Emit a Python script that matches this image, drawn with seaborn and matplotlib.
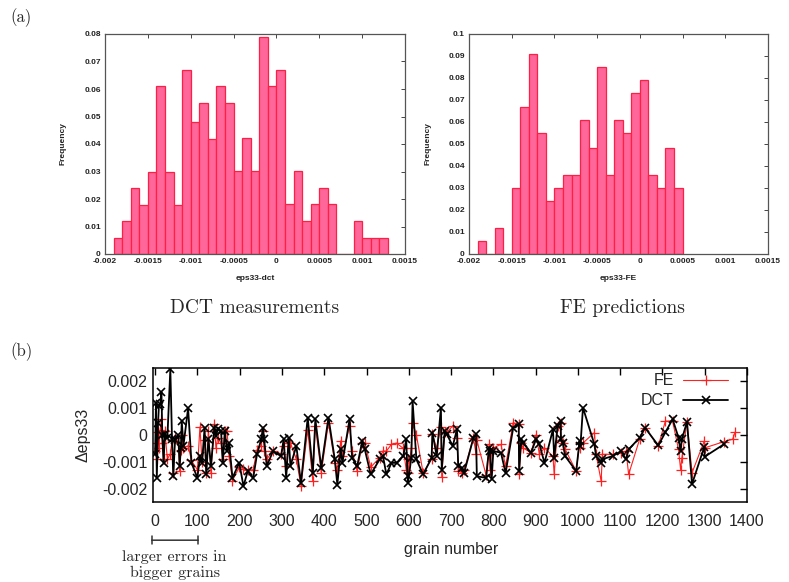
import numpy as np
import matplotlib
matplotlib.use('Agg')
import matplotlib.pyplot as plt
import matplotlib.transforms as mtransforms
import seaborn as sns

# (a) histograms: relative frequency per 0.0001-wide bin
bin_width = 0.0001
dct_bin_start = -0.0019
dct_freq = [0.006, 0.012, 0.024, 0.018, 0.030, 0.061, 0.030, 0.018,
            0.067, 0.048, 0.055, 0.042, 0.061, 0.055, 0.030, 0.042,
            0.030, 0.079, 0.061, 0.067, 0.018, 0.030, 0.012, 0.018,
            0.024, 0.018, 0.0, 0.0, 0.012, 0.006, 0.006, 0.006]
fe_bin_start = -0.0019
fe_freq = [0.006, 0.0, 0.012, 0.0, 0.030, 0.067, 0.091, 0.055,
           0.024, 0.030, 0.036, 0.036, 0.061, 0.048, 0.085, 0.036,
           0.061, 0.055, 0.073, 0.079, 0.036, 0.030, 0.048, 0.030]

hist_xticks = [-0.002, -0.0015, -0.001, -0.0005, 0, 0.0005, 0.001, 0.0015]
hist_xticklabels = ['-0.002', '-0.0015', '-0.001', '-0.0005', '0',
                    '0.0005', '0.001', '0.0015']
dct_yticks = [0, 0.01, 0.02, 0.03, 0.04, 0.05, 0.06, 0.07, 0.08]
fe_yticks = [0, 0.01, 0.02, 0.03, 0.04, 0.05, 0.06, 0.07, 0.08, 0.09, 0.1]

# (b) eps33 per grain, in units of 1e-3
grain = [0, 2, 4, 7, 9, 12, 15, 17, 20, 23,
         29, 36, 40, 43, 47, 55, 58, 61, 63, 67,
         78, 86, 100, 106, 111, 117, 121, 126, 132, 140,
         144, 148, 156, 160, 165, 170, 175, 183, 199, 209,
         219, 232, 241, 251, 255, 258, 264, 279, 298, 304,
         310, 316, 320, 334, 345, 361, 373, 379, 393, 410,
         425, 431, 439, 443, 460, 466, 478, 490, 496, 510,
         531, 539, 547, 559, 571, 587, 594, 597, 598, 606,
         609, 618, 634, 654, 656, 666, 676, 678, 685, 690,
         704, 714, 717, 725, 731, 753, 759, 761, 783, 790,
         792, 796, 800, 818, 829, 847, 860, 861, 866, 870,
         889, 901, 909, 921, 941, 944, 952, 959, 960, 964,
         970, 996, 1004, 1006, 1012, 1039, 1043, 1055, 1058, 1082,
         1102, 1114, 1120, 1146, 1159, 1190, 1207, 1224, 1238, 1243,
         1246, 1258, 1270, 1299, 1300, 1345]
dct_milli = [-0.72, 1.2, -1.6, 0.46, 1.1, 1.15, 1.6, 0.0, -1.04, 0.03,
             -0.1, 2.46, -0.16, -1.54, -0.2, 0.0, -1.16, -0.47, 0.52, -0.4,
             1.0, -1.04, -1.6, -0.8, -1.04, 0.27, -1.47, -0.15, -1.16, 0.27,
             -0.04, 0.21, 0.15, -1.04, 0.15, -0.6, -0.29, -1.6, -1.04, -1.91,
             -1.35, -1.6, -0.72, -0.16, 0.27, -0.16, -1.16, -0.6, -0.79, -0.16,
             -1.6, -0.1, -1.16, -0.41, -1.79, 0.65, -1.41, 0.59, -1.22, 0.65,
             -0.91, -1.85, -0.54, -1.04, 0.59, -0.85, -1.16, -0.22, -0.54, -1.47,
             -0.91, -0.79, -1.47, -1.04, -1.04, -0.79, -0.16, -1.54, -1.79, -0.85,
             1.27, -0.91, -1.47, -0.85, 0.09, -0.79, 1.02, -1.29, 0.15, 0.03,
             -0.41, 0.21, -1.16, -1.22, -1.41, -0.1, 0.02, -1.54, -1.6, -0.48,
             -0.6, -1.66, -0.6, -0.66, -1.41, 0.27, 0.4, -1.35, -0.16, -0.29,
             -0.66, -0.16, -0.35, -1.04, 0.21, -0.85, 0.34, 0.52, -0.16, -0.29,
             -0.79, -1.35, -0.22, -0.41, 1.02, -0.35, -0.79, -1.04, -0.9, -0.79,
             -0.6, -0.91, -0.54, -0.1, 0.27, -0.39, 0.1, 0.59, -0.1, -0.6,
             -0.16, 0.49, -1.83, -0.44, -0.81, -0.35]
fe_grain = grain + [1366, 1372]
fe_milli = [-0.6, -0.3, -0.9, 0.1, -0.5, 0.2, 0.6, -0.3, -0.9, 0.15,
            -0.9, -0.7, -0.2, -1.4, -0.1, -0.3, -1.35, -0.55, 0.0, -0.5,
            -0.4, -0.95, -1.3, 0.3, -1.0, -0.2, -1.4, 0.15, -1.4, 0.4,
            -0.5, -0.1, -0.3, -0.9, 0.15, 0.15, -0.8, -1.7, -1.2, -1.25,
            -1.3, -1.3, -0.55, -0.4, 0.15, -0.6, -0.9, -0.6, -0.7, -0.4,
            -1.16, -0.3, -0.3, -0.9, -1.9, 0.2, -1.72, 0.34, -1.4, 0.46,
            -1.04, -1.3, -0.22, -0.8, 0.34, -0.6, -1.35, -0.3, -0.3, -1.2,
            -0.85, -0.6, -0.6, -0.35, -0.3, -0.5, -1.3, -0.9, -1.4, -0.5,
            0.46, 0.0, -1.42, -0.9, 0.02, -0.5, 0.3, -1.55, 0.1, 0.1,
            0.34, -0.1, -1.35, -1.4, -1.3, -0.1, -0.72, -0.2, -1.5, -0.35,
            -1.29, -0.6, -0.48, -0.35, -1.16, 0.46, 0.4, -1.47, -0.3, -0.48,
            -0.66, 0.0, -0.72, -0.48, -0.8, -1.47, 0.34, 0.46, -0.2, -0.3,
            -0.54, -1.35, -0.3, -0.48, -0.3, 0.09, -0.72, -1.72, -0.72, -0.72,
            -0.66, -0.6, -1.47, -0.16, 0.27, -0.41, 0.52, 0.52, -0.54, -1.29,
            -0.85, 0.49, -1.41, -0.22, -0.48, -0.25,
            -0.16, 0.11]

line_xticks = list(range(0, 1401, 100))
line_yticks = [-0.002, -0.001, 0, 0.001, 0.002]
line_yticklabels = ['-0.002', '-0.001', '0', '0.001', '0.002']

FILL = '#ff6699'
EDGE = '#ff1f45'
SERIF = 'cmr10'


def draw_hist(ax, start, freq, xlabel, yticks):
    '''
    Draws one gnuplot-like frequency histogram from bin heights.
    '''
    freq = np.array(freq)
    centers = start + bin_width * (np.arange(len(freq)) + 0.5)
    edges = start + bin_width * np.arange(len(freq) + 1)
    keep = freq > 0
    sns.histplot(x=centers[keep], weights=freq[keep], bins=edges.tolist(),
                 color=FILL, edgecolor=EDGE, linewidth=0.9, alpha=1, ax=ax)
    ax.set_xlim(-0.002, 0.0015)
    ax.set_ylim(0, yticks[-1])
    ax.set_xticks(hist_xticks)
    ax.set_xticklabels(hist_xticklabels, fontweight='bold')
    ax.set_yticks(yticks)
    ax.set_yticklabels(['%g' % t for t in yticks], fontweight='bold')
    ax.tick_params(direction='in', top=True, right=True, length=3,
                   width=0.7, labelsize=6, pad=3, color='#444444',
                   labelcolor='#222222')
    for s in ax.spines.values():
        s.set_color('#555555')
        s.set_linewidth(0.9)
    ax.set_xlabel(xlabel, fontsize=6, fontweight='bold', color='#222222')
    ax.set_ylabel('Frequency', fontsize=6, fontweight='bold',
                  color='#222222')
    ax.xaxis.set_label_coords(0.5, -0.095)
    ax.yaxis.set_label_coords(-0.127, 0.5)


def main():
    sns.set_style('white')
    plt.rcParams['font.family'] = ['Liberation Sans', 'DejaVu Sans']

    W, H = 789, 582
    fig = plt.figure(figsize=(W / 100, H / 100), dpi=100)

    ax1 = fig.add_axes([105 / W, 1 - 254 / H, 300 / W, 220 / H])
    ax2 = fig.add_axes([469 / W, 1 - 254 / H, 299 / W, 220 / H])
    draw_hist(ax1, dct_bin_start, dct_freq, 'eps33-dct', dct_yticks)
    draw_hist(ax2, fe_bin_start, fe_freq, 'eps33-FE', fe_yticks)

    fig.text(10 / W, 1 - 18 / H, '(a)', fontfamily=SERIF, fontsize=12,
             va='center')
    fig.text(10 / W, 1 - 352 / H, '(b)', fontfamily=SERIF, fontsize=12,
             va='center')
    fig.text(255 / W, 1 - 308 / H, 'DCT measurements', fontfamily=SERIF,
             fontsize=14, ha='center', va='center')
    fig.text(622 / W, 1 - 308 / H, 'FE predictions', fontfamily=SERIF,
             fontsize=14, ha='center', va='center')

    ax3 = fig.add_axes([153 / W, 1 - 502 / H, 594 / W, 134 / H])
    sns.lineplot(x=fe_grain, y=np.array(fe_milli) * 1e-3, ax=ax3,
                 color='#ff2020', linewidth=0.8, marker='+', markersize=6.5,
                 markeredgewidth=0.9, markeredgecolor='#ff2020',
                 estimator=None, sort=False, label='FE')
    sns.lineplot(x=grain, y=np.array(dct_milli) * 1e-3, ax=ax3,
                 color='black', linewidth=1.3, marker='x', markersize=5.5,
                 markeredgewidth=1.2, markeredgecolor='black',
                 estimator=None, sort=False, label='DCT')
    ax3.set_xlim(-5, 1400)
    ax3.set_ylim(-0.0025, 0.0025)
    ax3.set_xticks(line_xticks)
    ax3.set_xticklabels([str(t) for t in line_xticks])
    ax3.set_yticks(line_yticks)
    ax3.set_yticklabels(line_yticklabels)
    ax3.tick_params(direction='in', top=True, right=True, length=5,
                    width=1, labelsize=11.5, color='black')
    ax3.tick_params(axis='x', pad=9)
    ax3.tick_params(axis='y', pad=4)
    for s in ax3.spines.values():
        s.set_color('black')
        s.set_linewidth(1.1)
    ax3.set_xlabel('grain number', fontsize=11.5)
    ax3.set_ylabel('\u0394eps33', fontsize=11.5)
    ax3.xaxis.set_label_coords(0.502, -0.30)
    ax3.yaxis.set_label_coords(-0.105, 0.5)
    ax3.legend(loc='upper right', markerfirst=False, frameon=False,
               fontsize=11.5, handlelength=2.8, handletextpad=0.6,
               labelspacing=0.3, borderpad=0, borderaxespad=0,
               bbox_to_anchor=(0.968, 0.96))

    ax3.annotate('', xy=(-8, -0.285), xytext=(102, -0.285),
                 xycoords=('data', 'axes fraction'),
                 textcoords=('data', 'axes fraction'),
                 arrowprops=dict(arrowstyle='|-|, widthA=0.3, widthB=0.3',
                                 lw=1.1, color='#333333',
                                 shrinkA=0, shrinkB=0),
                 annotation_clip=False)
    trans = mtransforms.blended_transform_factory(ax3.transData,
                                                  ax3.transAxes)
    ax3.text(46, -0.355, 'larger errors in\nbigger grains', transform=trans,
             fontfamily=SERIF, fontsize=11.5, ha='center', va='top',
             linespacing=1.2)

    fig.savefig('out.png', dpi=100)


if __name__ == "__main__":
    main()
